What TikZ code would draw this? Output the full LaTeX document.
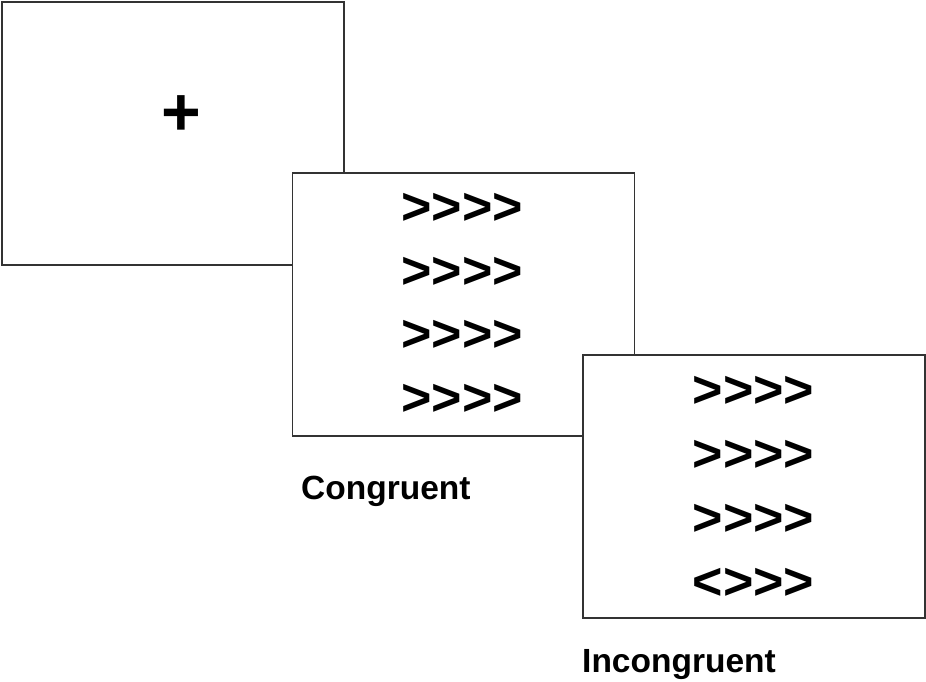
\documentclass[tikz,border=0pt]{standalone}
\usepackage{fontspec}
\setmainfont{Liberation Sans}[Ligatures=TeXOff]
\definecolor{frame}{HTML}{333333}
\begin{document}
\begin{tikzpicture}[x=1pt,y=-1pt,
  screen/.style={draw=frame, fill=white, line width=1.5pt, inner sep=0pt, outer sep=0pt,
                 minimum width=342pt, minimum height=263pt},
  chev/.style={inner sep=0pt, font=\fontsize{52}{52}\selectfont\bfseries},
  fix/.style={inner sep=0pt, font=\fontsize{68}{68}\selectfont\bfseries},
  lbl/.style={inner sep=0pt, anchor=base west, font=\fontsize{33.5}{33.5}\selectfont\bfseries}]
\useasboundingbox (0,0) rectangle (926,681);
\node[screen] (s1) at (173,133.5) {};
\node[fix] (plus) at (181.5,115.5) {+};
\node[screen] (s2) at (463.5,304.5) {};
\node[chev] (c1) at (462,209) {>>>>};
\node[chev] (c2) at (462,272.5) {>>>>};
\node[chev] (c3) at (462,336) {>>>>};
\node[chev] (c4) at (462,400) {>>>>};
\node[screen] (s3) at (754,486.5) {};
\node[chev] (i1) at (753.5,392) {>>>>};
\node[chev] (i2) at (753.5,456) {>>>>};
\node[chev] (i3) at (753.5,520) {>>>>};
\node[chev] (i4) at (753.5,584) {<>>>};
\node[lbl] (cong) at (301,499) {Congruent};
\node[lbl] (incong) at (582,672) {Incongruent};
\end{tikzpicture}
\end{document}
